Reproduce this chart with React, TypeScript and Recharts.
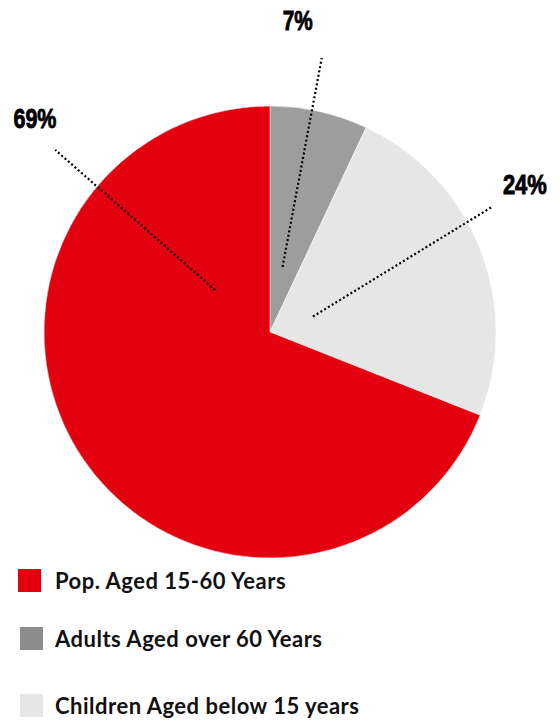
import React from "react";
import { PieChart, Pie, Cell, Legend } from "recharts";

const categories = ["Adults Aged over 60 Years", "Children Aged below 15 years", "Pop. Aged 15-60 Years"];
const values = [7, 24, 69];
const sliceColors = ["#9D9D9D", "#E6E6E6", "#E3000F"];
const legendColors = ["#8C8C8C", "#E6E6E6", "#E3000F"];
const legendOrder = [2, 0, 1];
const labelTexts = ["7%", "24%", "69%"];

const data = categories.map((name, i) => ({ name, value: values[i] }));

// label leader-line layout, polar (degrees, fraction of outer radius), plus label width
const labelLayout = [
  { a0: 79.1, r0: 0.293, a1: 79.3, r1: 1.234, at: 84.9, rt: 1.385, w: 30 },
  { a0: 19.8, r0: 0.202, a1: 29.4, r1: 1.127, at: 30.2, rt: 1.305, w: 44 },
  { a0: 142.6, r0: 0.306, a1: 139.7, r1: 1.246, at: 137.7, rt: 1.406, w: 43 },
];

const RAD = Math.PI / 180;
const pt = (cx: number, cy: number, a: number, r: number) => ({
  x: cx + r * Math.cos(a * RAD),
  y: cy - r * Math.sin(a * RAD),
});

const renderLabel = (props: any) => {
  const { cx, cy, outerRadius, index } = props;
  const L = labelLayout[index];
  const p0 = pt(cx, cy, L.a0, L.r0 * outerRadius);
  const p1 = pt(cx, cy, L.a1, L.r1 * outerRadius);
  const pt2 = pt(cx, cy, L.at, L.rt * outerRadius);
  return (
    <g key={`lbl-${index}`}>
      <line x1={p0.x} y1={p0.y} x2={p1.x} y2={p1.y} stroke="#000" strokeWidth={2.2} strokeDasharray="2 2.4" />
      <text
        x={pt2.x - L.w / 2}
        y={pt2.y + 10}
        textLength={L.w}
        lengthAdjust="spacingAndGlyphs"
        fontFamily="'Liberation Sans', Arial, sans-serif"
        fontWeight="bold"
        fontSize={28}
        fill="#000"
        stroke="#000"
        strokeWidth={0.9}
      >
        {labelTexts[index]}
      </text>
    </g>
  );
};

const legendRows = [
  { top: 569, left: 18 },
  { top: 627, left: 20 },
  { top: 694, left: 20 },
];

const renderLegend = () => (
  <div style={{ position: "absolute", left: 0, top: 0, width: 560, height: 721 }}>
    {legendOrder.map((idx, row) => (
      <div key={idx} style={{ position: "absolute", left: legendRows[row].left, top: legendRows[row].top, display: "flex", alignItems: "center" }}>
        <div style={{ width: 23, height: 23, background: legendColors[idx] }} />
        <span
          style={{
            marginLeft: 14 - (legendRows[row].left - 18),
            fontFamily: "Lato, 'Open Sans', sans-serif",
            fontWeight: 700,
            fontSize: 22,
            letterSpacing: 0.5,
            color: "#111",
            lineHeight: "23px",
            whiteSpace: "nowrap",
          }}
        >
          {categories[idx]}
        </span>
      </div>
    ))}
  </div>
);

export default function App() {
  return (
    <div style={{ position: "absolute", left: 0, top: 0, width: 560, height: 721, background: "#fff" }}>
      <PieChart width={560} height={721} margin={{ top: 0, left: 0, right: 0, bottom: 0 }}>
        <Pie
          data={data}
          dataKey="value"
          nameKey="name"
          cx={270}
          cy={332}
          outerRadius={226}
          startAngle={90}
          endAngle={-270}
          stroke="#ffffff"
          strokeWidth={0.5}
          label={renderLabel}
          labelLine={false}
          isAnimationActive={false}
        >
          {data.map((d, i) => (
            <Cell key={d.name} fill={sliceColors[i]} />
          ))}
        </Pie>
        <Legend content={renderLegend} wrapperStyle={{ position: "absolute", left: 0, top: 0, width: 560, height: 721 }} />
      </PieChart>
    </div>
  );
}
